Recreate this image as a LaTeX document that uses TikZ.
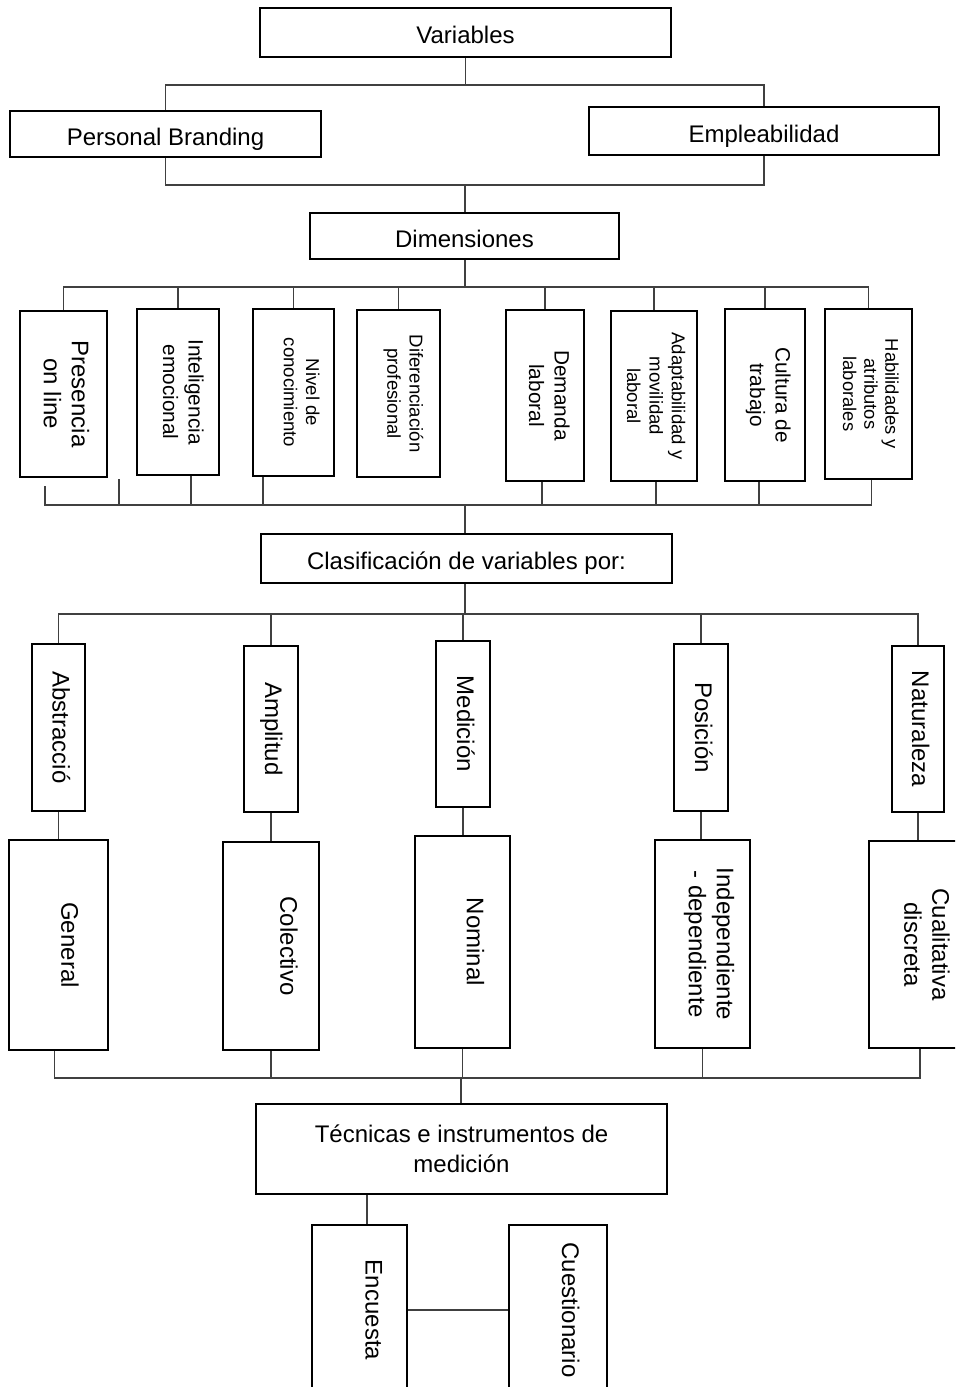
\documentclass[tikz,border=0pt]{standalone}
\usepackage{fontspec}
\setmainfont{Liberation Sans}
\usepackage{graphicx}
\usepackage{tikz}
\usetikzlibrary{positioning}
\definecolor{linkgray}{RGB}{64, 64, 64}

% rotated (top-to-bottom) text, optional push to the right
\newcommand{\vt}[2][0pt]{\hspace*{#1}\rotatebox{-90}{\begin{tabular}{@{}c@{}}#2\end{tabular}}}

\begin{document}
\begin{tikzpicture}[
  x=0.5pt, y=-0.5pt,
  box/.style={
    rectangle, draw=black, line width=1.2pt, inner sep=0pt,
    align=center, font=\fontsize{12}{15}\selectfont
  },
  title/.style={box, text height=11pt, text depth=0pt},
  big/.style={font=\fontsize{12}{14}\selectfont},
  mid/.style={font=\fontsize{10.4}{12.8}\selectfont},
  small/.style={font=\fontsize{9.3}{11.2}\selectfont},
  link/.style={draw=linkgray, line width=0.6pt},
]

\path[use as bounding box, fill=white] (0,0) rectangle (955,1387);
\clip (0,0) rectangle (955,1387);

% Variables
\node[title, minimum width=205.5pt, minimum height=24.5pt] (var) at (465.5,32.5) {Variables};
\node[title, minimum width=155.5pt, minimum height=23pt]   (pb)  at (165.5,134)  {Personal Branding};
\node[title, minimum width=175pt,   minimum height=24pt]   (emp) at (764,131)    {Empleabilidad};
\node[title, minimum width=154.5pt, minimum height=23pt]   (dim) at (464.5,236)  {Dimensiones};

\coordinate (jA) at (465,85);
\coordinate (jB) at (465,185);
\draw[link] (var.south) -- (var.south |- jA);
\draw[link] (pb.north) |- (jA) -| (emp.north);
\draw[link] (pb.south) |- (jB) -| (emp.south);
\draw[link] (jB) -- (jB |- dim.north);

% Dimensiones
\node[box, big,   minimum width=43.5pt, minimum height=83pt]   (pres)  at (63.5,394)  {\vt{Presencia\\on line}};
\node[box, mid,   minimum width=41pt,   minimum height=83pt]   (intel) at (178,392)   {\vt[3pt]{Inteligencia\\emocional}};
\node[box, small, minimum width=40.5pt, minimum height=83.5pt] (nivel) at (293.5,392.5) {\vt[6pt]{Nivel de\\conocimiento}};
\node[box, small, minimum width=41.5pt, minimum height=83.5pt] (dif)   at (398.5,393.5) {\vt[4.5pt]{Diferenciación\\profesional}};
\node[box, mid,   minimum width=39pt,   minimum height=85.5pt] (dem)   at (545,395.5) {\vt[2pt]{Demanda\\laboral}};
\node[box, small, minimum width=43pt,   minimum height=85pt]   (adap)  at (654,396)   {\vt{Adaptabilidad y\\movilidad\\laboral}};
\node[box, mid,   minimum width=40pt,   minimum height=86pt]   (cult)  at (765,395)   {\vt[3pt]{Cultura de\\trabajo}};
\node[box, font=\fontsize{9.2}{10.6}\selectfont, minimum width=43.5pt, minimum height=85pt] (hab) at (868.5,394) {\vt{Habilidades y\\atributos\\laborales}};

\coordinate (jC) at (465,287);
\draw[link] (dim.south -| jC) -- (jC);
\draw[link] (pres.north) |- (jC) -| (hab.north);
\foreach \b in {intel, nivel, dif, dem, adap, cult}
  \draw[link] (\b.north) -- (\b.north |- jC);

\coordinate (jD) at (465,505);
\coordinate (sA) at (119,479);
\draw[link] ([xshift=-9.25pt, yshift=-4pt]pres.south) |- (jD) -| ([xshift=1.5pt]hab.south);
\draw[link] (sA) -- (sA |- jD);
\draw[link] ([xshift=6.5pt]intel.south) -- ([xshift=6.5pt]intel.south |- jD);
\draw[link] ([xshift=-15.25pt]nivel.south) -- ([xshift=-15.25pt]nivel.south |- jD);
\draw[link] ([xshift=-1.5pt]dem.south) -- ([xshift=-1.5pt]dem.south |- jD);
\draw[link] ([xshift=1pt]adap.south) -- ([xshift=1pt]adap.south |- jD);
\draw[link] ([xshift=-3pt]cult.south) -- ([xshift=-3pt]cult.south |- jD);

% Clasificacion
\node[title, minimum width=205.5pt, minimum height=24.5pt] (cla) at (466.5,558.5) {Clasificación de variables por:};
\draw[link] (jD) -- (jD |- cla.north);

\node[box, minimum width=26.5pt, minimum height=83.5pt] (abs) at (58.5,727.5) {\vt{Abstracció}};
\node[box, minimum width=27pt,   minimum height=83pt]   (amp) at (271,729)    {\vt{Amplitud}};
\node[box, minimum width=27pt,   minimum height=83pt]   (med) at (463,724)    {\vt{Medición}};
\node[box, minimum width=27pt,   minimum height=83.5pt] (pos) at (701,727.5)  {\vt{Posición}};
\node[box, minimum width=26pt,   minimum height=83pt]   (nat) at (918,729)    {\vt{Naturaleza}};

\coordinate (jE) at (465,614);
\draw[link] (jE |- cla.south) -- (jE);
\draw[link] (abs.north) |- (jE) -| (nat.north);
\foreach \b in {amp, med, pos}
  \draw[link] (\b.north) -- (\b.north |- jE);

\node[box, big, minimum width=49.5pt, minimum height=105pt]   (gen) at (58.5,945)   {\vt[8.5pt]{General}};
\node[box, big, minimum width=48pt,   minimum height=104pt]   (col) at (271,946)    {\vt[15pt]{Colectivo}};
\node[box, big, minimum width=47.5pt, minimum height=106pt]   (nom) at (462.5,942)  {\vt[10pt]{Nominal}};
\node[box, big, minimum width=47.5pt, minimum height=104pt]   (ind) at (702.5,944)  {\vt[6pt]{Independiente\\- dependiente}};
\node[box, big, minimum width=48pt,   minimum height=103.5pt] (cua) at (917,944.5)  {\vt[7pt]{Cualitativa\\discreta}};

\foreach \a/\b in {abs/gen, amp/col, med/nom, pos/ind, nat/cua}
  \draw[link] (\a.south) -- (\a.south |- \b.north);

\coordinate (jF) at (461,1078);
\draw[link] ([xshift=-2pt]gen.south) |- (jF) -| ([xshift=1.5pt]cua.south);
\foreach \b in {col, nom, ind}
  \draw[link] (\b.south) -- (\b.south |- jF);

% Tecnicas
\node[box, minimum width=205.5pt, minimum height=45pt] (tec) at (461.5,1149) {Técnicas e instrumentos de\\medición};
\draw[link] (jF) -- (jF |- tec.north);

\node[box, minimum width=47.5pt, minimum height=85pt] (enc) at (359.5,1310) {\vt[12pt]{Encuesta}};
\node[box, minimum width=49pt,   minimum height=85pt] (cue) at (558,1310)   {\vt[10pt]{Cuestionario}};

\draw[link] ([xshift=3.75pt]enc.north) -- ([xshift=3.75pt]enc.north |- tec.south);
\draw[link] (enc.east) -- (cue.west);

\end{tikzpicture}
\end{document}
